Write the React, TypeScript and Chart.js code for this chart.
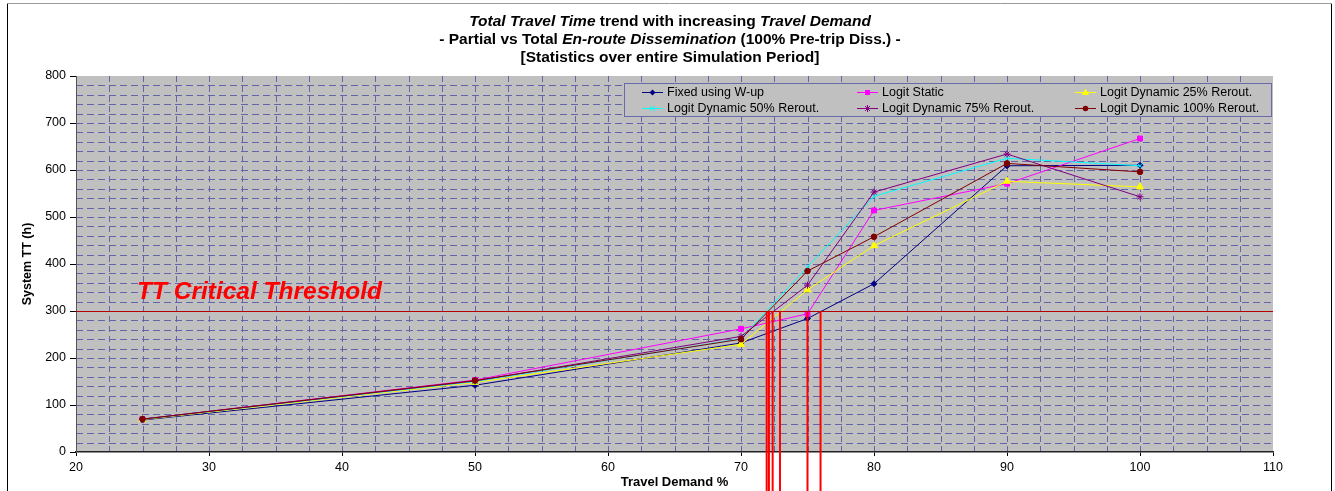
import React, { useEffect, useRef } from "react";
import { Chart, registerables } from "chart.js";

Chart.register(...registerables);

const FONT = "Arial, 'Liberation Sans', Helvetica, sans-serif";

// ---- data ----
const travelDemand = [25, 50, 70, 75, 80, 90, 100];
const fixedWup = [68, 142, 232, 284, 358, 609, 610];
const logitStatic = [70, 153, 262, 294, 514, 571, 667];
const logitDyn25 = [69, 148, 229, 345, 439, 576, 564];
const logitDyn50 = [70, 150, 241, 394, 544, 625, 609];
const logitDyn75 = [70, 151, 246, 355, 553, 634, 543];
const logitDyn100 = [70, 152, 240, 385, 458, 614, 596];

const seriesNames = [
  "Fixed using W-up",
  "Logit Static",
  "Logit Dynamic 25% Rerout.",
  "Logit Dynamic 50% Rerout.",
  "Logit Dynamic 75% Rerout.",
  "Logit Dynamic 100% Rerout.",
];
const seriesValues = [fixedWup, logitStatic, logitDyn25, logitDyn50, logitDyn75, logitDyn100];
const seriesColors = ["#000080", "#ff00ff", "#ffff00", "#00ffff", "#800080", "#800000"];
const seriesMarkers = ["rectRot", "rect", "triangle", "crossRot", "star", "circle"];
const markerRadius = [3, 3.5, 4, 3.5, 3.5, 2.8];

const xTickValues = [20, 30, 40, 50, 60, 70, 80, 90, 100, 110];
const yTickValues = [0, 100, 200, 300, 400, 500, 600, 700, 800];
const xMinorStep = 2.5;
const yMinorStep = 20;

const thresholdTT = 300;
const thresholdCrossings = [71.93, 72.1, 72.38, 72.93, 75.0, 75.98];
const thresholdLabel = "TT Critical Threshold";

const xAxisTitle = "Travel Demand %";
const yAxisTitle = "System TT (h)";

type Seg = [string, boolean];
const titleLines: Seg[][] = [
  [["Total Travel Time", true], [" trend with increasing ", false], ["Travel Demand", true]],
  [["- Partial vs Total ", false], ["En-route Dissemination", true], [" (100% Pre-trip Diss.) -", false]],
  [["[Statistics over entire Simulation Period]", false]],
];

// ---- drawing helpers ----
function drawMarker(ctx: CanvasRenderingContext2D, style: string, x: number, y: number, r: number, color: string) {
  ctx.save();
  ctx.fillStyle = color;
  ctx.strokeStyle = color;
  ctx.lineWidth = 1;
  ctx.setLineDash([]);
  ctx.beginPath();
  if (style === "rectRot") {
    ctx.moveTo(x, y - r);
    ctx.lineTo(x + r, y);
    ctx.lineTo(x, y + r);
    ctx.lineTo(x - r, y);
    ctx.closePath();
    ctx.fill();
  } else if (style === "rect") {
    const s = r * Math.SQRT1_2;
    ctx.fillRect(x - s, y - s, 2 * s, 2 * s);
  } else if (style === "triangle") {
    ctx.moveTo(x, y - r);
    ctx.lineTo(x + r * 0.9, y + r * 0.6);
    ctx.lineTo(x - r * 0.9, y + r * 0.6);
    ctx.closePath();
    ctx.fill();
  } else if (style === "crossRot") {
    const s = r * Math.SQRT1_2;
    ctx.moveTo(x - s, y - s);
    ctx.lineTo(x + s, y + s);
    ctx.moveTo(x - s, y + s);
    ctx.lineTo(x + s, y - s);
    ctx.stroke();
  } else if (style === "star") {
    const s = r * Math.SQRT1_2;
    ctx.moveTo(x - s, y - s);
    ctx.lineTo(x + s, y + s);
    ctx.moveTo(x - s, y + s);
    ctx.lineTo(x + s, y - s);
    ctx.moveTo(x, y - r);
    ctx.lineTo(x, y + r);
    ctx.stroke();
  } else {
    ctx.arc(x, y, r, 0, Math.PI * 2);
    ctx.fill();
  }
  ctx.restore();
}

const backgroundPlugin = {
  id: "bgAndGrid",
  beforeDraw(chart: any) {
    const { ctx, chartArea: a, width, height } = chart;
    ctx.save();
    ctx.fillStyle = "#ffffff";
    ctx.fillRect(0, 0, width, height);
    // outer frame
    ctx.lineWidth = 1;
    ctx.strokeStyle = "#9a9a9a";
    ctx.beginPath();
    ctx.moveTo(7, 3.5);
    ctx.lineTo(1332, 3.5);
    ctx.stroke();
    ctx.strokeStyle = "#000000";
    ctx.beginPath();
    ctx.moveTo(7.5, 4);
    ctx.lineTo(7.5, height);
    ctx.moveTo(1331.5, 4);
    ctx.lineTo(1331.5, height);
    ctx.stroke();
    // plot background
    ctx.fillStyle = "#c0c0c0";
    ctx.fillRect(a.left, a.top, a.right - a.left, a.bottom - a.top);
    // dashed grid
    const xs = chart.scales.x;
    const ys = chart.scales.y;
    ctx.strokeStyle = "#6464a8";
    ctx.lineWidth = 1;
    ctx.setLineDash([7, 4]);
    for (let v = ys.min + yMinorStep; v < ys.max; v += yMinorStep) {
      const py = Math.round(ys.getPixelForValue(v)) + 0.5;
      ctx.beginPath();
      ctx.moveTo(a.left, py);
      ctx.lineTo(a.right, py);
      ctx.stroke();
    }
    ctx.setLineDash([6, 4]);
    for (let v = xs.min + xMinorStep; v < xs.max; v += xMinorStep) {
      const px = Math.round(xs.getPixelForValue(v)) + 0.5;
      ctx.beginPath();
      ctx.moveTo(px, a.bottom);
      ctx.lineTo(px, a.top);
      ctx.stroke();
    }
    ctx.restore();
  },
};

const legendPlugin = {
  id: "boxLegend",
  afterDatasetsDraw(chart: any) {
    const { ctx } = chart;
    const left = 624.5;
    const top = 83.5;
    const w = 647;
    const h = 33;
    ctx.save();
    ctx.fillStyle = "#c0c0c0";
    ctx.fillRect(left, top, w, h);
    ctx.strokeStyle = "#6a6aa8";
    ctx.lineWidth = 1;
    ctx.setLineDash([]);
    ctx.strokeRect(left, top, w, h);
    const colX = [642, 857, 1075];
    const rowY = [92.5, 108.5];
    ctx.font = `12.5px ${FONT}`;
    ctx.textBaseline = "middle";
    ctx.textAlign = "left";
    seriesNames.forEach((name, i) => {
      const cx = colX[i % 3];
      const cy = rowY[Math.floor(i / 3)];
      ctx.strokeStyle = seriesColors[i];
      ctx.lineWidth = 1;
      ctx.beginPath();
      ctx.moveTo(cx, cy);
      ctx.lineTo(cx + 21, cy);
      ctx.stroke();
      drawMarker(ctx, seriesMarkers[i], cx + 10.5, cy, markerRadius[i], seriesColors[i]);
      ctx.fillStyle = "#000000";
      ctx.fillText(name, cx + 25, cy + 0.5);
    });
    ctx.restore();
  },
};

const overlayPlugin = {
  id: "overlay",
  afterDraw(chart: any) {
    const { ctx, chartArea: a, height } = chart;
    const xs = chart.scales.x;
    const ys = chart.scales.y;
    ctx.save();
    // threshold horizontal line
    const ty = Math.round(ys.getPixelForValue(thresholdTT)) + 0.5;
    ctx.strokeStyle = "#b00000";
    ctx.lineWidth = 1;
    ctx.beginPath();
    ctx.moveTo(a.left, ty);
    ctx.lineTo(a.right, ty);
    ctx.stroke();
    // vertical drop lines
    ctx.strokeStyle = "#ff0000";
    ctx.lineWidth = 2;
    thresholdCrossings.forEach((v) => {
      const px = xs.getPixelForValue(v);
      ctx.beginPath();
      ctx.moveTo(px, ty);
      ctx.lineTo(px, height);
      ctx.stroke();
    });
    // label
    ctx.fillStyle = "#ff0000";
    ctx.font = `italic bold 24.5px ${FONT}`;
    ctx.textAlign = "left";
    ctx.textBaseline = "alphabetic";
    ctx.fillText(thresholdLabel, a.left + 61, ty - 13);

    // title (mixed italic)
    const centerX = 670;
    const lineY = [22, 40, 58];
    ctx.fillStyle = "#000000";
    ctx.textBaseline = "middle";
    titleLines.forEach((segs, li) => {
      let total = 0;
      segs.forEach(([t, it]) => {
        ctx.font = `${it ? "italic " : ""}bold 15.5px ${FONT}`;
        total += ctx.measureText(t).width;
      });
      let x = centerX - total / 2;
      segs.forEach(([t, it]) => {
        ctx.font = `${it ? "italic " : ""}bold 15.5px ${FONT}`;
        ctx.fillText(t, x, lineY[li]);
        x += ctx.measureText(t).width;
      });
    });
    ctx.restore();
  },
};

export default function App() {
  const canvasRef = useRef<HTMLCanvasElement | null>(null);

  useEffect(() => {
    document.body.style.margin = "0";
    const canvas = canvasRef.current;
    if (!canvas) return;

    const datasets = seriesNames.map((name, i) => ({
      label: name,
      data: travelDemand.map((x, j) => ({ x, y: seriesValues[i][j] })),
      borderColor: seriesColors[i],
      backgroundColor: seriesColors[i],
      pointBackgroundColor: seriesColors[i],
      pointBorderColor: seriesColors[i],
      pointStyle: seriesMarkers[i],
      pointRadius: markerRadius[i],
      pointBorderWidth: 1,
      borderWidth: 1,
      tension: 0,
      fill: false,
      order: seriesNames.length - i,
    }));

    const chart = new Chart(canvas, {
      type: "line",
      data: { datasets },
      plugins: [backgroundPlugin, legendPlugin, overlayPlugin],
      options: {
        animation: false,
        responsive: false,
        devicePixelRatio: 1,
        layout: { padding: { top: 76, right: 62, left: 0, bottom: 0 } },
        plugins: {
          legend: { display: false },
          title: { display: false },
          tooltip: { enabled: false },
        },
        scales: {
          x: {
            type: "linear",
            min: xTickValues[0],
            max: xTickValues[xTickValues.length - 1],
            afterBuildTicks: (scale: any) => {
              scale.ticks = xTickValues.map((v) => ({ value: v }));
            },
            afterFit: (scale: any) => {
              scale.height = 39;
            },
            ticks: {
              color: "#000",
              font: { family: FONT, size: 12.5 },
              padding: 4,
              maxRotation: 0,
              autoSkip: false,
            },
            grid: {
              drawOnChartArea: false,
              drawTicks: true,
              tickLength: 4,
              color: "#000",
              tickColor: "#000",
            },
            border: { display: true, color: "#222", width: 1.5 },
            title: {
              display: true,
              text: xAxisTitle,
              color: "#000",
              font: { family: FONT, size: 13, weight: "bold" },
              padding: { top: 0, bottom: 1 },
            },
          },
          y: {
            type: "linear",
            min: yTickValues[0],
            max: yTickValues[yTickValues.length - 1],
            afterBuildTicks: (scale: any) => {
              scale.ticks = yTickValues.map((v) => ({ value: v }));
            },
            afterFit: (scale: any) => {
              scale.width = 76;
            },
            ticks: {
              color: "#000",
              font: { family: FONT, size: 12.5 },
              padding: 4,
              autoSkip: false,
            },
            grid: {
              drawOnChartArea: false,
              drawTicks: true,
              tickLength: 6,
              color: "#000",
              tickColor: "#000",
            },
            border: { display: true, color: "#555", width: 1 },
            title: {
              display: true,
              text: yAxisTitle,
              color: "#000",
              font: { family: FONT, size: 12.5, weight: "bold" },
              padding: { top: 20, bottom: 0 },
            },
          },
        },
      } as any,
    });

    return () => {
      chart.destroy();
    };
  }, []);

  return (
    <div style={{ width: 1335, height: 491, position: "relative" }}>
      <canvas ref={canvasRef} width={1335} height={491} style={{ width: 1335, height: 491, display: "block" }} />
    </div>
  );
}
